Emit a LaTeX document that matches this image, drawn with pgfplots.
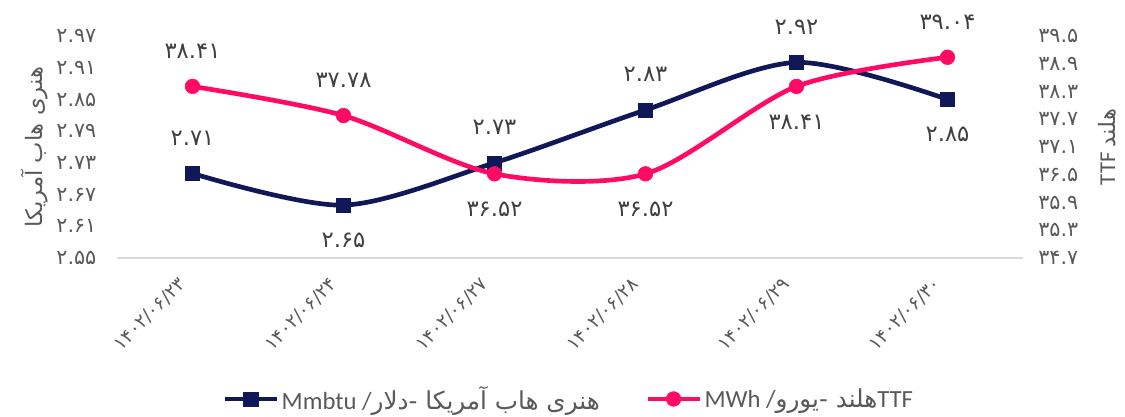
\documentclass[border=0pt]{standalone}
\usepackage{fontspec}
\setmainfont{Carlito}
\newfontfamily\fa[Script=Arabic]{DejaVu Sans}
\usepackage{pgfplots}
\usepackage{pgfplotstable}
\pgfplotsset{compat=1.18}
\TeXXeTstate=1

\definecolor{hhnavy}{RGB}{16,24,88}
\definecolor{ttfpink}{RGB}{255,10,100}
\definecolor{tickgray}{RGB}{89,89,89}
\definecolor{lblgray}{RGB}{64,64,64}
\definecolor{axgray}{RGB}{217,217,217}

% henry hub, dollar / Mmbtu (left axis)
\pgfplotstableread{
x y pos lbl
0 2.71 1 ۲.۷۱
1 2.65 -1 ۲.۶۵
2 2.73 1 ۲.۷۳
3 2.83 1 ۲.۸۳
4 2.92 1 ۲.۹۲
5 2.85 -1 ۲.۸۵
}\hhdata

% TTF, euro / MWh (right axis)
\pgfplotstableread{
x y pos lbl
0 38.41 1 ۳۸.۴۱
1 37.78 1 ۳۷.۷۸
2 36.52 -1 ۳۶.۵۲
3 36.52 -1 ۳۶.۵۲
4 38.41 -1 ۳۸.۴۱
5 39.04 1 ۳۹.۰۴
}\ttfdata

\pgfplotsset{
  base/.style={
    at={(0,0)}, anchor=south west,
    scale only axis, width=679.5pt, height=166.5pt,
    xmin=-0.5, xmax=5.5,
    major tick length=0pt,
    tick style={draw=none},
    clip=false,
  },
  lblnodes/.style={
    nodes near coords, point meta=explicit symbolic,
    visualization depends on={\thisrow{pos}\as\lpos},
    every node near coord/.append style={anchor=center, yshift=\lpos*26.5pt,
      font=\fa\fontsize{17}{17}\selectfont, text=lblgray},
  },
}

\begin{document}
\begin{tikzpicture}
\path[use as bounding box] (-87.75pt,-119.25pt) rectangle (756pt,193.5pt);

\begin{axis}[base,
  ymin=2.55, ymax=2.97,
  separate axis lines,
  axis x line*=bottom, axis y line*=left,
  x axis line style={draw=axgray, line width=1.2pt},
  y axis line style={draw=none},
  xtick={0,...,5},
  xticklabels={۱۴۰۲/۰۶/۲۳,۱۴۰۲/۰۶/۲۴,۱۴۰۲/۰۶/۲۷,۱۴۰۲/۰۶/۲۸,۱۴۰۲/۰۶/۲۹,۱۴۰۲/۰۶/۳۰},
  xticklabel style={font=\fa\fontsize{14}{14}\selectfont, text=tickgray,
    xshift=-5pt, yshift=-15pt, rotate=45, anchor=east},
  ytick={2.55,2.61,2.67,2.73,2.79,2.85,2.91,2.97},
  yticklabels={۲.۵۵,۲.۶۱,۲.۶۷,۲.۷۳,۲.۷۹,۲.۸۵,۲.۹۱,۲.۹۷},
  yticklabel style={font=\fa\fontsize{15.5}{15.5}\selectfont, text=tickgray, xshift=-12pt},
  ylabel={\fa\beginR هنری هاب آمریکا\endR},
  ylabel style={at={(axis description cs:-0.0905,0.5)}, anchor=center, rotate=0,
    font=\fontsize{17}{17}\selectfont, text=tickgray},
]
\addplot[hhnavy, line width=3.5pt, smooth, mark=square*,
  mark size=5.3pt, mark options={line width=0.4pt}, lblnodes]
  table[x=x, y=y, meta=lbl]{\hhdata};
\end{axis}

\begin{axis}[base,
  ymin=34.7, ymax=39.5,
  axis x line=none, axis y line*=right,
  y axis line style={draw=none},
  ytick={34.7,35.3,35.9,36.5,37.1,37.7,38.3,38.9,39.5},
  yticklabels={۳۴.۷,۳۵.۳,۳۵.۹,۳۶.۵,۳۷.۱,۳۷.۷,۳۸.۳,۳۸.۹,۳۹.۵},
  yticklabel style={font=\fa\fontsize{15.5}{15.5}\selectfont, text=tickgray, xshift=8pt},
  ylabel={TTF {\fa\beginR هلند\endR}},
  ylabel style={at={(axis description cs:1.0927,0.5)}, anchor=center, rotate=0,
    font=\fontsize{17}{17}\selectfont, text=tickgray},
  legend columns=2,
  legend style={at={(0.499,-0.635)}, anchor=center, draw=none, fill=none,
    inner sep=0pt, outer sep=0pt,
    font=\fontsize{18.5}{18.5}\selectfont, text=tickgray,
    /tikz/every even column/.append style={column sep=32pt}},
  legend cell align=left,
  legend image code/.code={\draw[mark repeat=2, mark phase=2, #1]
    plot coordinates {(0pt,0pt) (19.5pt,0pt) (39pt,0pt)};},
]
\addlegendimage{hhnavy, line width=3.5pt, mark=square*, mark size=5.3pt, mark options={line width=0.4pt}}
\addlegendentry{Mmbtu /{\fa\fontsize{18.5}{18.5}\selectfont\beginR هنری هاب آمریکا -دلار\endR}}
\addplot[ttfpink, line width=3.5pt, smooth, mark=*,
  mark size=5.5pt, mark options={line width=0.4pt}, lblnodes]
  table[x=x, y=y, meta=lbl]{\ttfdata};
\addlegendentry{MWh /{\fa\fontsize{18.5}{18.5}\selectfont\beginR هلند -یورو\endR}TTF}
\end{axis}
\end{tikzpicture}
\end{document}
